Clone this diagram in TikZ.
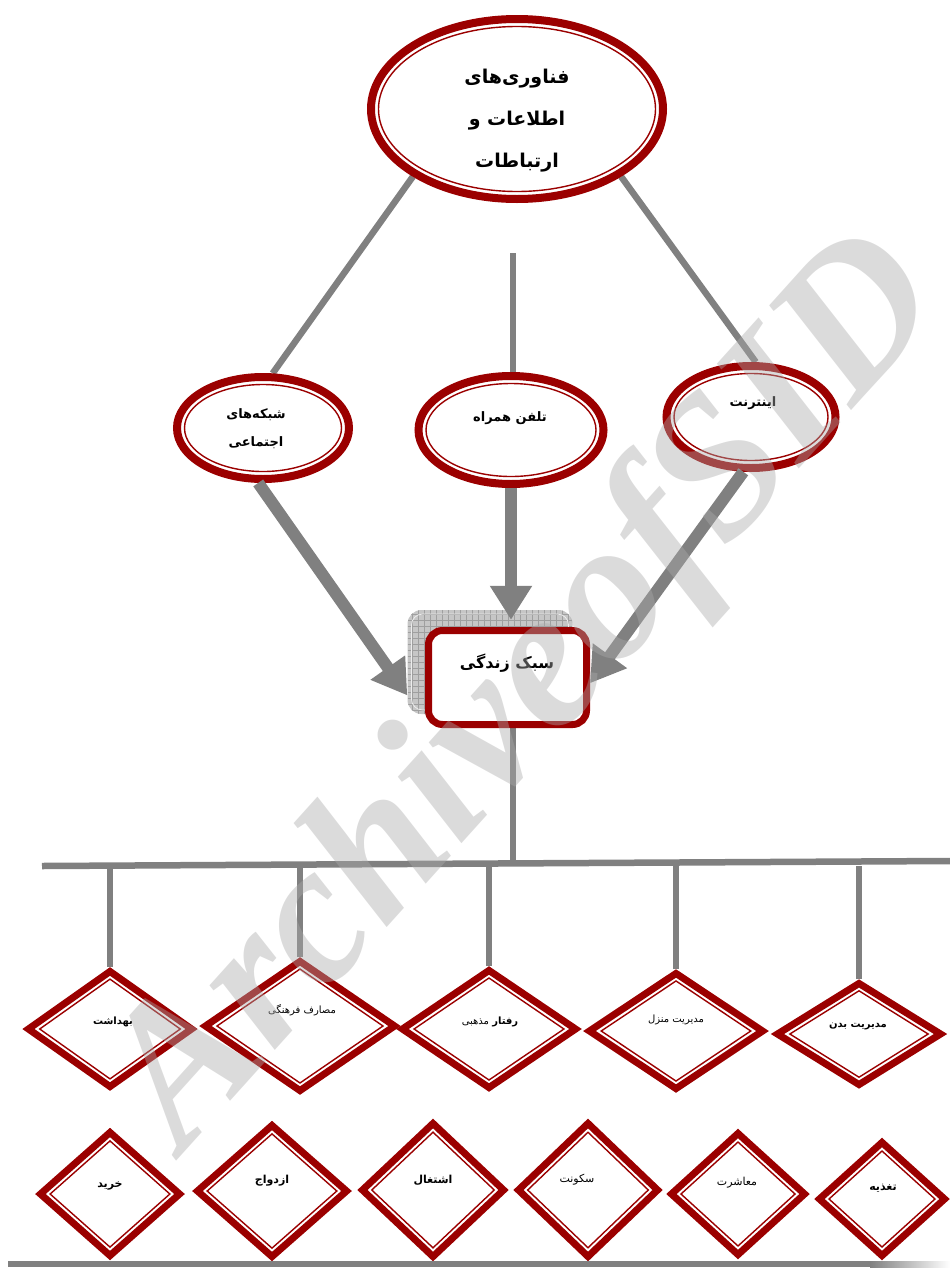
\documentclass[tikz,border=0pt]{standalone}
\usepackage{fontspec}
\usetikzlibrary{shapes.geometric,arrows.meta,calc}
\TeXXeTstate=1
\newfontfamily\fa[Script=Arabic]{DejaVu Sans}
\newfontfamily\wmfont{Liberation Serif}
\definecolor{dred}{RGB}{155,0,0}
\definecolor{lgray}{RGB}{128,128,128}
\definecolor{wmgray}{RGB}{170,170,170}
\pgfdeclarelayer{bg}
\pgfsetlayers{bg,main}
\newcommand\dellipse[5]{%
  \node[ellout, minimum width=#4pt, minimum height=#5pt] (#1) at (#2,#3) {};
  \node[ellin, minimum width=#4pt-15pt, minimum height=#5pt-15pt] (#1in) at (#1) {};}
\newcommand\ddiam[5]{%
  \pgfmathsetmacro\dhyp{sqrt((#4)*(#4)+(#5)*(#5))}%
  \pgfmathsetmacro\dai{#4-7.2*\dhyp/(#5)}%
  \pgfmathsetmacro\dbi{#5-7.2*\dhyp/(#4)}%
  \node[dout, minimum width=#4*2pt, minimum height=#5*2pt] (#1) at (#2,#3) {};
  \node[din, minimum width=\dai*2pt, minimum height=\dbi*2pt] (#1in) at (#1) {};}
\begin{document}
\begin{tikzpicture}[x=1pt,y=-1pt,
  ellout/.style={ellipse, draw=dred, line width=8pt, fill=white, inner sep=0pt},
  ellin/.style={ellipse, draw=dred, line width=1.4pt, inner sep=0pt},
  dout/.style={diamond, draw=dred, line width=7pt, fill=white, inner sep=0pt, miter limit=20},
  din/.style={diamond, draw=dred, line width=1.4pt, inner sep=0pt, miter limit=20},
  conn/.style={draw=lgray, line width=6.5pt},
  bigarrow/.style={draw=lgray, fill=lgray, line width=12pt, -{Triangle[length=34pt,width=40pt]}},
  ttl/.style={font=\fa\bfseries\fontsize{19}{42}\selectfont, align=center, inner sep=0pt},
  mid/.style={font=\fa\bfseries\fontsize{13}{28}\selectfont, align=center, inner sep=0pt},
  lbl/.style={font=\fa\fontsize{10}{12}\selectfont, inner sep=0pt},
  blbl/.style={font=\fa\bfseries\fontsize{10}{12}\selectfont, inner sep=0pt},
  lblb/.style={font=\fa\fontsize{11}{13}\selectfont, inner sep=0pt},
  blblb/.style={font=\fa\bfseries\fontsize{11}{13}\selectfont, inner sep=0pt},
]
\useasboundingbox (0,0) rectangle (950,1269);

% top ellipse
\dellipse{top}{517}{109}{292}{180}
\node[ttl] (toptxt) at (517,121) {\beginR فناوری‌های\endR\\\beginR اطلاعات و\endR\\\beginR ارتباطات\endR};

% middle ellipses
\dellipse{soc}{263}{428}{172}{102}
\node[mid] (soctxt) at (256,429) {\beginR شبکه‌های\endR\\\beginR اجتماعی\endR};
\dellipse{phone}{511}{430}{185}{108}
\node[mid] (phonetxt) at (510,418) {\beginR تلفن همراه\endR};
\dellipse{int}{751}{417}{169}{102}
\node[mid] (inttxt) at (753,403) {\beginR اینترنت\endR};

% life style box
\node[rectangle, rounded corners=14pt, minimum width=165pt, minimum height=104pt, fill=gray!45,
  path picture={\draw[gray!75, line width=0.5pt] (path picture bounding box.south west) grid[step=6pt] (path picture bounding box.north east);}]
  (hatch) at (490,662) {};
\node[rectangle, rounded corners=11pt, minimum width=157pt, minimum height=96pt, draw=white!85!gray, line width=0.8pt] (hatchin) at (hatch) {};
\node[rectangle, rounded corners=14pt, minimum width=158pt, minimum height=94pt, draw=dred, line width=7pt, fill=white] (life) at (507.5,677.5) {};
\node[font=\fa\bfseries\fontsize{16}{18}\selectfont, inner sep=0pt] (lifetxt) at (507,663) {\beginR سبک زندگی\endR};

% diamonds row 1
\ddiam{d1}{110}{1029}{83}{59}
\ddiam{d2}{300}{1026}{96}{66}
\ddiam{d3}{489}{1029}{88}{60}
\ddiam{d4}{676}{1031}{88}{59}
\ddiam{d5}{859}{1034}{83}{52}
\node[blbl] (t1) at (113,1022) {\beginR بهداشت\endR};
\node[lbl] (t2) at (302,1010) {\beginR مصارف فرهنگی\endR};
\node[lbl] (t3) at (490,1022) {\beginR{\bfseries رفتار} مذهبی\endR};
\node[lbl] (t4) at (676,1020) {\beginR مدیریت منزل\endR};
\node[blbl] (t5) at (858,1026) {\beginR مدیریت بدن\endR};

% diamonds row 2
\ddiam{e1}{110}{1194}{71}{63}
\ddiam{e2}{272}{1191}{76}{67}
\ddiam{e3}{433}{1190}{72}{68}
\ddiam{e4}{588}{1190}{71}{68}
\ddiam{e5}{738}{1194}{68}{62}
\ddiam{e6}{882}{1199}{64}{58}
\node[blblb] (u1) at (110,1186) {\beginR خرید\endR};
\node[blblb] (u2) at (272,1181) {\beginR ازدواج\endR};
\node[blblb] (u3) at (433,1180) {\beginR اشتغال\endR};
\node[lblb] (u4) at (577,1180) {\beginR سکونت\endR};
\node[lblb] (u5) at (737,1183) {\beginR معاشرت\endR};
\node[blblb] (u6) at (883,1188) {\beginR تغذیه\endR};

% connectors (behind)
\coordinate (mstart) at (513,253);
\coordinate (hl) at (42,866);
\coordinate (hr) at (950,861);
\begin{pgfonlayer}{bg}
\draw[conn] (top.213) -- (soc.80);
\draw[conn] (top.327) -- (int.85);
\draw[conn] (mstart) -- (mstart |- phone.north);
\draw[conn] (mstart |- life.south) -- (mstart |- hl);
\draw[conn] (hl) -- (hr);
\foreach \d in {d1,d2,d3,d4,d5}{\draw[conn] (\d.north |- hl) -- (\d.north);}
\end{pgfonlayer}

% thick arrows
\draw[bigarrow] (soc.265) -- (hatch.202);
\draw[bigarrow, shorten >=-10pt] (phone.south) -- (phone.south |- hatch.north);
\draw[bigarrow] (int.262) -- (life.356);

% bottom rule
\fill[lgray] (8,1261) rectangle (870,1267);
\shade[left color=lgray, right color=white] (870,1261) rectangle (950,1267);

% watermark
\node[rotate=48, text=wmgray, opacity=0.42, inner sep=0pt,
  font=\wmfont\bfseries\itshape\fontsize{200}{200}\selectfont] (wmark) at (530,695) {ArchiveofSID};
\end{tikzpicture}
\end{document}
